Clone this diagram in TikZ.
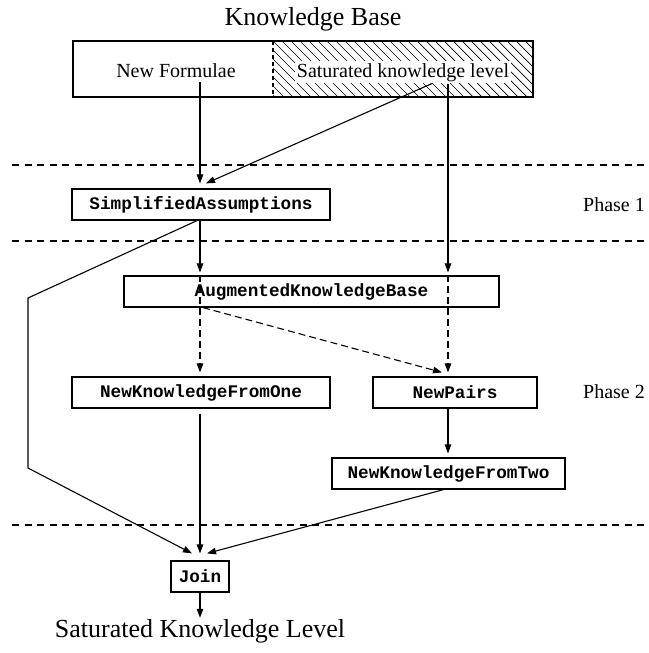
\documentclass[tikz,border=0pt]{standalone}
\usepackage{fontspec}
\setmainfont{Liberation Serif}
\setmonofont{Liberation Mono}
\usetikzlibrary{arrows.meta,calc}
\begin{document}
\begin{tikzpicture}[x=1pt,y=-1pt,
  conn/.style={line width=1.1pt,-{Triangle[length=9pt,width=6.5pt]}},
  dsh/.style={dash pattern=on 7pt off 4pt},
  sep/.style={line width=1.1pt,dash pattern=on 7pt off 5.5pt},
  proc/.style={draw,line width=1.2pt,inner sep=0pt,font=\fontsize{17.7}{20}\selectfont\ttfamily\bfseries,minimum height=31pt},
  lbl/.style={font=\fontsize{20}{24}\selectfont},
  big/.style={font=\fontsize{26}{30}\selectfont}
]
\useasboundingbox (0,0) rectangle (648,653);

% title
\node[big,anchor=base] (title) at (313,25) {Knowledge Base};

% knowledge base box with hatched part
\begin{scope}
  \clip (273,41) rectangle (533,97);
  \foreach \x in {210,219,...,540} \draw[line width=0.7pt] (\x,41) -- (\x+56,97);
\end{scope}
\node[lbl,anchor=base,inner sep=2pt] (nf) at (176,77) {New Formulae};
\node[lbl,anchor=base,inner sep=2pt,fill=white] (skl) at (403,77) {Saturated knowledge level};
\draw[line width=1.1pt,dash pattern=on 4pt off 3pt] (273,41) -- (273,97);
\node[draw,line width=2.5pt,minimum width=460pt,minimum height=56pt,inner sep=0pt] (kb) at (303,69) {};

% separators
\draw[sep] (12,165) -- (648,165);
\draw[sep] (12,241) -- (648,241);
\draw[sep] (12,525) -- (648,525);

% phase labels
\node[lbl,anchor=west,inner sep=0pt] (ph1) at (583,205) {Phase 1};
\node[lbl,anchor=west,inner sep=0pt] (ph2) at (583,392) {Phase 2};

% process boxes
\node[proc,minimum width=258pt] (sa) at (201,204.5) {SimplifiedAssumptions};
\node[proc,minimum width=375pt] (akb) at (311.5,291.5) {AugmentedKnowledgeBase};
\node[proc,minimum width=258pt] (nkfo) at (201,392.5) {NewKnowledgeFromOne};
\node[proc,minimum width=164pt] (np) at (455,392.5) {NewPairs};
\node[proc,minimum width=233pt] (nkft) at (448.5,473.5) {NewKnowledgeFromTwo};
\node[proc,minimum width=58pt] (join) at (200,576.5) {Join};
\node[big,anchor=base,inner sep=1pt] (out) at (200,637) {Saturated Knowledge Level};

% helper coordinates
\coordinate (lx) at (200,0);
\coordinate (rv) at (448,0);
\coordinate (dx) at (203,0);
\coordinate (p1) at (28,298);
\coordinate (p2) at (28,468);

% connectors
\draw[conn,shorten <=3pt,shorten >=5pt] (nf.south -| lx) -- (sa.north -| lx);
\draw[conn] ([xshift=29pt]skl.south) -- ($(sa.north)+(5,-5)$);
\draw[conn,shorten >=3pt] (skl.south -| rv) -- (akb.north -| rv);
\draw[conn,shorten >=3pt] (sa.south -| lx) -- (akb.north -| lx);
\draw[conn,dsh,shorten >=4pt] (akb.north -| lx) -- (nkfo.north -| lx);
\draw[conn,dsh,shorten >=4pt] (akb.north -| rv) -- (np.north -| rv);
\draw[conn,dsh] (akb.south -| dx) -- ($(np.north -| rv)+(-6,-4)$);
\draw[conn] ($(sa.south)+(-4,0)$) -- (p1) -- (p2) -- ($(join.north)+(-8,-7)$);
\draw[conn,shorten <=5pt,shorten >=7pt] (nkfo.south -| lx) -- (join.north -| lx);
\draw[conn,shorten >=4pt] (np.south -| rv) -- (nkft.north -| rv);
\draw[conn] ($(nkft.south)+(-5,0)$) -- ($(join.north)+(7,-7)$);
\draw[conn] (join.south) -- (out.north);
\end{tikzpicture}
\end{document}
